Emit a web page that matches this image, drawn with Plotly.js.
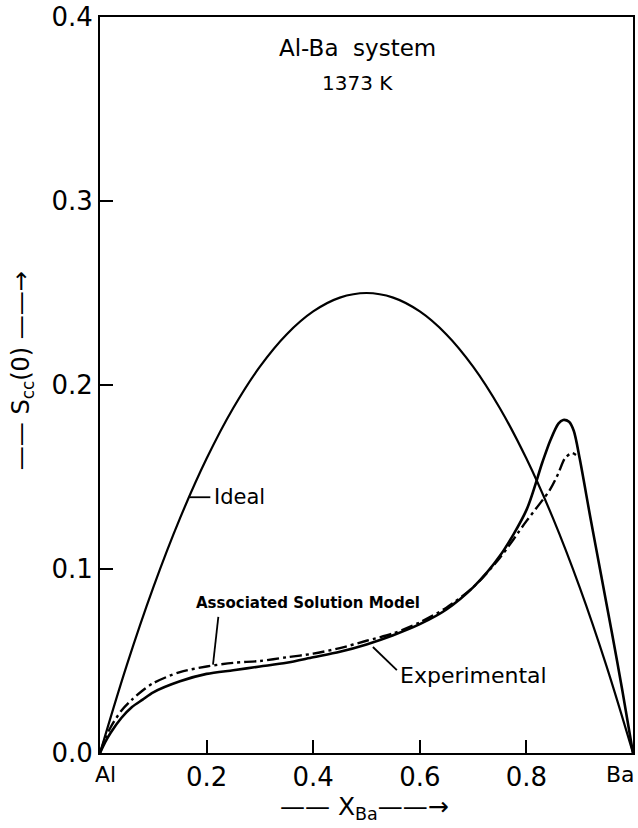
<!DOCTYPE html>
<html>
<head>
<meta charset="utf-8">
<script src="https://cdn.plot.ly/plotly-3.0.1.min.js"></script>
<style>html,body{margin:0;padding:0;background:#fff;}#chart{width:638px;height:828px;}</style>
</head>
<body>
<div id="chart"></div>
<script>
// Ideal curve
const idealX = [0, 0.05, 0.1, 0.15, 0.2, 0.25, 0.3, 0.35, 0.4, 0.45, 0.5, 0.55, 0.6, 0.65, 0.7, 0.75, 0.8, 0.85, 0.9, 0.95, 1.0];
const idealY = [0, 0.0475, 0.09, 0.1275, 0.16, 0.1875, 0.21, 0.2275, 0.24, 0.2475, 0.25, 0.2475, 0.24, 0.2275, 0.21, 0.1875, 0.16, 0.1275, 0.09, 0.0475, 0];

// Experimental curve
const expX = [0, 0.01, 0.02, 0.04, 0.06, 0.08, 0.1, 0.15, 0.2, 0.25, 0.3, 0.35, 0.4, 0.45, 0.5, 0.55, 0.6, 0.65, 0.7, 0.75, 0.8, 0.83, 0.845, 0.86, 0.869, 0.88, 0.889, 0.9, 0.92, 0.94, 0.96, 0.98, 1.0];
const expY = [0, 0.006, 0.011, 0.019, 0.025, 0.029, 0.033, 0.039, 0.043, 0.045, 0.047, 0.049, 0.052, 0.055, 0.059, 0.064, 0.070, 0.078, 0.090, 0.107, 0.132, 0.158, 0.170, 0.179, 0.181, 0.180, 0.175, 0.160, 0.128, 0.097, 0.066, 0.034, 0];

// Associated Solution Model curve
const assocX = [0, 0.01, 0.02, 0.04, 0.06, 0.08, 0.1, 0.15, 0.2, 0.25, 0.3, 0.35, 0.4, 0.45, 0.5, 0.55, 0.6, 0.65, 0.7, 0.75, 0.8, 0.844, 0.86, 0.872, 0.885, 0.893];
const assocY = [0, 0.008, 0.014, 0.023, 0.029, 0.034, 0.038, 0.044, 0.047, 0.049, 0.050, 0.052, 0.054, 0.057, 0.061, 0.065, 0.071, 0.079, 0.090, 0.106, 0.126, 0.143, 0.152, 0.160, 0.163, 0.162];

const xTickVals = [0.2, 0.4, 0.6, 0.8];
const xTickText = ['0.2', '0.4', '0.6', '0.8'];
const yTickVals = [0, 0.1, 0.2, 0.3, 0.4];
const yTickText = ['0.0', '0.1', '0.2', '0.3', '0.4'];

const FONT = 'DejaVu Sans, sans-serif';

const traces = [
  {x: idealX, y: idealY, mode: 'lines', line: {color: '#000', width: 2.2, shape: 'spline', smoothing: 1}, hoverinfo: 'skip'},
  {x: expX, y: expY, mode: 'lines', line: {color: '#000', width: 2.6, shape: 'spline', smoothing: 0.8}, hoverinfo: 'skip'},
  {x: assocX, y: assocY, mode: 'lines', line: {color: '#000', width: 2.4, dash: '12px,4px,3px,4px', shape: 'spline', smoothing: 0.8}, hoverinfo: 'skip'}
];

const layout = {
  width: 638, height: 828,
  margin: {l: 100, r: 5, t: 17, b: 75},
  paper_bgcolor: '#fff', plot_bgcolor: '#fff',
  showlegend: false,
  font: {family: FONT, color: '#000'},
  xaxis: {
    range: [0, 1], showgrid: false, zeroline: false,
    showline: true, linecolor: '#000', linewidth: 2, mirror: true,
    ticks: 'inside', ticklen: 13, tickwidth: 2, tickcolor: '#000',
    tickvals: xTickVals, ticktext: xTickText,
    tickfont: {family: FONT, size: 26, color: '#000'}
  },
  yaxis: {
    range: [0, 0.4], showgrid: false, zeroline: false,
    showline: true, linecolor: '#000', linewidth: 2, mirror: true,
    ticks: 'inside', ticklen: 13, tickwidth: 2, tickcolor: '#000',
    tickvals: yTickVals, ticktext: yTickText,
    tickfont: {family: FONT, size: 26, color: '#000'}
  },
  annotations: [
    {x: 0.484, y: 0.383, xref: 'x', yref: 'y', text: 'Al-Ba&nbsp;&nbsp;system', showarrow: false, font: {size: 23}},
    {x: 0.484, y: 0.364, xref: 'x', yref: 'y', text: '1373 K', showarrow: false, font: {size: 20}},
    {x: 0.70, y: 0.042, xref: 'x', yref: 'y', text: 'Experimental', showarrow: false, font: {size: 22}},
    {x: 0.39, y: 0.0815, xref: 'x', yref: 'y', text: '<b>Associated Solution Model</b>', showarrow: false, font: {size: 15}},
    {x: 0.21, y: 0.139, xref: 'x', yref: 'y', text: 'Ideal', xanchor: 'left', showarrow: false, font: {size: 21}},
    {x: 0.011, y: -0.0095, xref: 'paper', yref: 'paper', text: 'Al', showarrow: false, xanchor: 'center', yanchor: 'top', font: {size: 22}},
    {x: 0.977, y: -0.0095, xref: 'paper', yref: 'paper', text: 'Ba', showarrow: false, xanchor: 'center', yanchor: 'top', font: {size: 22}},
    {x: 0.497, y: -0.0745, xref: 'paper', yref: 'paper', text: '—— X<sub>Ba</sub>——→', showarrow: false, xanchor: 'center', yanchor: 'middle', font: {size: 25}},
    {x: -0.146, y: 0.519, xref: 'paper', yref: 'paper', text: '—— S<sub>cc</sub>(0) ——→', textangle: -90, showarrow: false, xanchor: 'center', yanchor: 'middle', font: {size: 24}}
  ],
  shapes: [
    {type: 'line', xref: 'x', yref: 'y', x0: 0.512, y0: 0.0576, x1: 0.557, y1: 0.045, line: {color: '#000', width: 1.8}},
    {type: 'line', xref: 'x', yref: 'y', x0: 0.222, y0: 0.074, x1: 0.212, y1: 0.048, line: {color: '#000', width: 1.8}},
    {type: 'line', xref: 'x', yref: 'y', x0: 0.168, y0: 0.139, x1: 0.207, y1: 0.139, line: {color: '#000', width: 1.8}}
  ]
};

Plotly.newPlot('chart', traces, layout, {displayModeBar: false, staticPlot: true});
</script>
</body>
</html>
